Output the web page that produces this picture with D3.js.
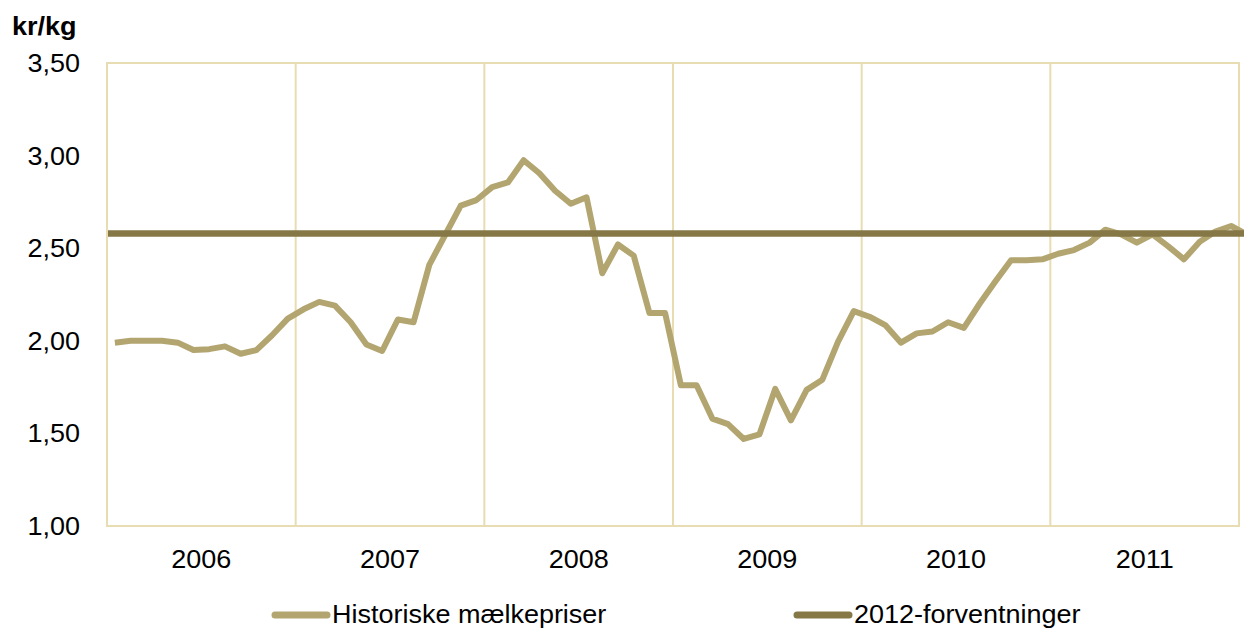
<!DOCTYPE html>
<html>
<head>
<meta charset="utf-8">
<script src="https://cdn.jsdelivr.net/npm/d3@7"></script>
<style>
  body { margin: 0; background: #fff; }
  text { font-family: "Liberation Sans", Arial, sans-serif; fill: #000; }
</style>
</head>
<body>
<svg width="1244" height="630"></svg>
<script>
const years = ['2006', '2007', '2008', '2009', '2010', '2011'];

// monthly milk price, kr/kg (Jan 2006 .. Jan 2012)
const prices2006 = [1.99, 2.00, 2.00, 2.00, 1.99, 1.95, 1.955, 1.97, 1.93, 1.95, 2.03, 2.12];
const prices2007 = [2.17, 2.21, 2.19, 2.10, 1.98, 1.945, 2.115, 2.10, 2.41, 2.57, 2.73, 2.76];
const prices2008 = [2.83, 2.855, 2.975, 2.905, 2.81, 2.74, 2.775, 2.365, 2.52, 2.46, 2.15, 2.15];
const prices2009 = [1.76, 1.76, 1.58, 1.55, 1.47, 1.495, 1.74, 1.57, 1.735, 1.79, 1.995, 2.16];
const prices2010 = [2.13, 2.085, 1.99, 2.04, 2.05, 2.10, 2.07, 2.20, 2.32, 2.435, 2.435, 2.44];
const prices2011 = [2.47, 2.49, 2.53, 2.60, 2.575, 2.53, 2.575, 2.51, 2.44, 2.535, 2.59, 2.62];
const prices2012 = [2.575];

const forecast2012 = 2.58;
const yTicks = [1.0, 1.5, 2.0, 2.5, 3.0, 3.5];
const seriesNames = ['Historiske mælkepriser', '2012-forventninger'];

const history = [].concat(prices2006, prices2007, prices2008, prices2009, prices2010, prices2011, prices2012);

const svg = d3.select("svg");
const width = +svg.attr("width");

const plot = { left: 107, right: 1239, top: 63, bottom: 526 };
const lightColor = "#b3a570";
const darkColor = "#857746";
const gridColor = "#e8dcb2";
const stretch = 1.08;

const xScale = d3.scaleLinear()
    .domain([0, years.length * 12])
    .range([plot.left, plot.right]);

const yearScale = d3.scaleBand()
    .domain(years)
    .range([plot.left, plot.right]);

const yScale = d3.scaleLinear()
    .domain([1, 3.5])
    .range([plot.bottom, plot.top]);

const fmt = d3.formatLocale({ decimal: ",", thousands: ".", grouping: [3], currency: ["", " kr"] }).format(".2f");

function addText(g, x, y, str, size, anchor, weight) {
    g.append("text")
        .attr("transform", `translate(${x},${y}) scale(${stretch},1)`)
        .attr("text-anchor", anchor)
        .attr("font-size", size)
        .attr("font-weight", weight || "normal")
        .text(str);
}

// frame + year separators
svg.append("rect")
    .attr("x", plot.left).attr("y", plot.top)
    .attr("width", plot.right - plot.left).attr("height", plot.bottom - plot.top)
    .attr("fill", "none")
    .attr("stroke", gridColor)
    .attr("stroke-width", 2);

svg.selectAll(".grid")
    .data(years.slice(1))
    .enter().append("line")
    .attr("class", "grid")
    .attr("x1", d => yearScale(d)).attr("x2", d => yearScale(d))
    .attr("y1", plot.top).attr("y2", plot.bottom)
    .attr("stroke", gridColor)
    .attr("stroke-width", 2);

// y axis labels
const yl = svg.append("g");
yTicks.forEach(t => addText(yl, 80, yScale(t) + 9, fmt(t), 25, "end"));
addText(svg, 12, 35, "kr/kg", 25, "start", "bold");

// x axis labels
const xl = svg.append("g");
years.forEach(y => addText(xl, yearScale(y) + yearScale.bandwidth() / 2, 568, y, 25, "middle"));

// history line
const line = d3.line()
    .x((d, i) => xScale(i + 0.5))
    .y(d => yScale(d));

svg.append("path")
    .datum(history)
    .attr("fill", "none")
    .attr("stroke", lightColor)
    .attr("stroke-width", 6)
    .attr("stroke-linejoin", "round")
    .attr("d", line);

// 2012 expectation
svg.append("line")
    .attr("x1", plot.left + 1).attr("x2", width)
    .attr("y1", yScale(forecast2012)).attr("y2", yScale(forecast2012))
    .attr("stroke", darkColor)
    .attr("stroke-width", 6.5);

// legend
const legendItems = [
    { name: seriesNames[0], color: lightColor, x: 275 },
    { name: seriesNames[1], color: darkColor, x: 797 }
];
const lg = svg.append("g");
legendItems.forEach(d => {
    lg.append("line")
        .attr("x1", d.x).attr("x2", d.x + 52)
        .attr("y1", 615).attr("y2", 615)
        .attr("stroke", d.color)
        .attr("stroke-width", 7)
        .attr("stroke-linecap", "round");
    addText(lg, d.x + 57, 623, d.name, 25, "start");
});
</script>
</body>
</html>
